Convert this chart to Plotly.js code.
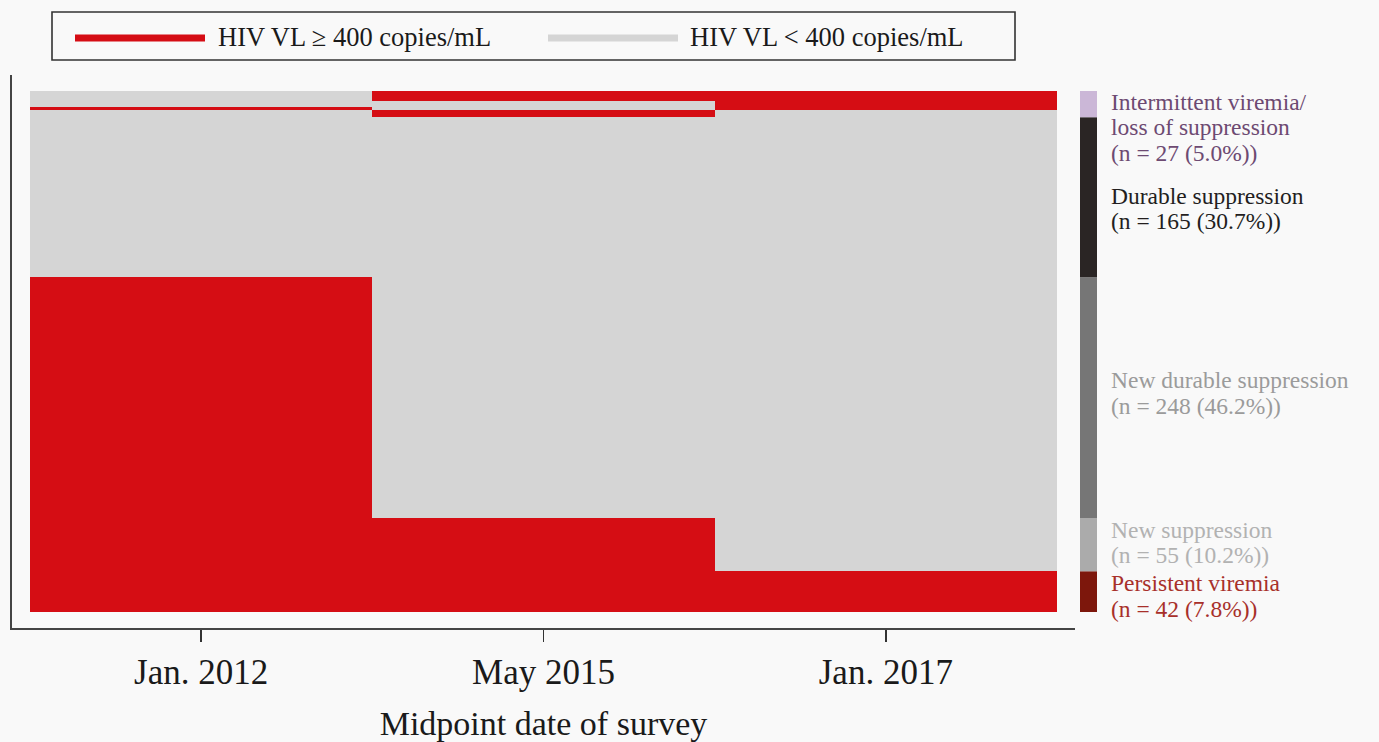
<!DOCTYPE html>
<html>
<head>
<meta charset="utf-8">
<script src="https://cdn.plot.ly/plotly-3.0.1.min.js"></script>
<style>
  html, body { margin: 0; padding: 0; background: #f9f9f9; }
  #chart { width: 1379px; height: 742px; }
</style>
</head>
<body>
<div id="chart"></div>
<script>
// Survey rounds shown as columns
const surveys = ['Jan. 2012', 'May 2015', 'Jan. 2017'];

// Trajectory groups, bottom to top (each entry is a list of text lines before the count)
const groupNames = [
  ['Persistent viremia'],
  ['New suppression'],
  ['New durable suppression'],
  ['Durable suppression'],
  ['Intermittent viremia/', 'loss of suppression']
];

// Runs of participants sharing the same viral-load pattern (1 = VL >= 400, 0 = VL < 400)
const runGroup  = [0, 1, 2, 3, 4, 4, 4, 4];
const runCounts = [42, 55, 248, 165, 7, 3, 7, 10];
const run2012   = [1, 1, 1, 0, 0, 1, 0, 0];
const run2015   = [1, 1, 0, 0, 1, 0, 0, 1];
const run2017   = [1, 0, 0, 0, 0, 1, 1, 1];

// Legend entries
const vlLabels = ['HIV VL \u2265 400 copies/mL', 'HIV VL < 400 copies/mL'];

// Colours
const RED = '#d50d14';
const GREY = '#d5d5d5';
const groupBarColors = ['#7d170c', '#ababab', '#767676', '#2a2524', '#cbb7d7'];
const groupTextColors = ['#a8302a', '#b2b2b2', '#9b9b9b', '#231e1e', '#6d4a72'];
const labelShiftPx = [-4.5, 2, 4.5, -11.5, -23];
const LINE_GAP = 25.5;

const FONT = '"Liberation Serif", "DejaVu Serif", serif';

// Build one heatmap row per participant
const z = [];
runCounts.forEach((n, i) => {
  for (let k = 0; k < n; k++) z.push([run2012[i], run2015[i], run2017[i]]);
});
const total = z.length;

// Group sizes and cumulative extents
const groupCounts = groupNames.map((_, g) =>
  runCounts.reduce((s, n, i) => s + (runGroup[i] === g ? n : 0), 0));
const groupStart = [];
groupCounts.reduce((acc, n, g) => { groupStart[g] = acc; return acc + n; }, 0);

// Plot-area geometry (pixels) used for paper-space helpers
const G = { l: 12, r: 1075, t: 75, b: 628 };
const fx = x => (x - G.l) / (G.r - G.l);
const fy = y => (G.b - y) / (G.b - G.t);

const pxPerCol = (1057 - 30) / 3;
const padX = 18 / pxPerCol;
const pxPerRow = 521 / total;
const padY = 16 / pxPerRow;

const trace = {
  type: 'heatmap',
  z: z,
  x: [0, 1, 2],
  y: z.map((_, i) => i),
  zmin: 0, zmax: 1,
  colorscale: [[0, GREY], [0.5, GREY], [0.5, RED], [1, RED]],
  showscale: false,
  hoverinfo: 'skip'
};

const shapes = [];
const annotations = [];

// Group colour strip and labels on the right
groupCounts.forEach((n, g) => {
  const y0 = groupStart[g] - 0.5;
  const y1 = groupStart[g] + n - 0.5;
  shapes.push({
    type: 'rect', xref: 'paper', yref: 'y',
    x0: fx(1080), x1: fx(1097), y0: y0, y1: y1,
    fillcolor: groupBarColors[g], line: { width: 0 }, layer: 'above'
  });
  const pct = (100 * n / total).toFixed(1);
  const lines = groupNames[g].concat(['(n = ' + n + ' (' + pct + '%))']);
  lines.forEach((txt, i) => {
    const off = (i - (lines.length - 1) / 2) * LINE_GAP;
    annotations.push({
      xref: 'paper', yref: 'y',
      x: fx(1109), y: (y0 + y1) / 2, yshift: labelShiftPx[g] - off,
      xanchor: 'left', yanchor: 'middle', align: 'left',
      showarrow: false,
      text: txt,
      font: { family: FONT, size: 23.5, color: groupTextColors[g] }
    });
  });
});

// Legend box drawn across the top
shapes.push({
  type: 'rect', xref: 'paper', yref: 'paper',
  x0: fx(52), x1: fx(1015), y0: fy(60), y1: fy(12),
  fillcolor: 'rgba(0,0,0,0)', line: { color: '#333333', width: 1.6 }
});
const legendSwatchX = [[75, 205], [548, 678]];
const legendTextX = [216, 688];
const legendColors = [RED, GREY];
vlLabels.forEach((lab, i) => {
  shapes.push({
    type: 'line', xref: 'paper', yref: 'paper',
    x0: fx(legendSwatchX[i][0]), x1: fx(legendSwatchX[i][1]),
    y0: fy(38), y1: fy(38),
    line: { color: legendColors[i], width: 7 }
  });
  annotations.push({
    xref: 'paper', yref: 'paper', x: fx(legendTextX[i]), y: fy(37),
    xanchor: 'left', yanchor: 'middle', showarrow: false,
    text: lab, font: { family: FONT, size: 26.5, color: '#1a1a1a' }
  });
});

const layout = {
  width: 1379, height: 742,
  margin: { l: G.l, r: 1379 - G.r, t: G.t, b: 742 - G.b, pad: 0 },
  paper_bgcolor: '#f9f9f9',
  plot_bgcolor: '#f9f9f9',
  showlegend: false,
  xaxis: {
    range: [-0.5 - padX, 2.5 + padX],
    tickmode: 'array', tickvals: [0, 1, 2], ticktext: surveys,
    ticks: 'outside', ticklen: 12, tickwidth: 1.5, tickcolor: '#333333',
    ticklabelstandoff: 0,
    showline: true, linecolor: '#444444', linewidth: 1.6,
    showgrid: false, zeroline: false, fixedrange: true,
    tickfont: { family: FONT, size: 35, color: '#1a1a1a' },
    title: { text: 'Midpoint date of survey', standoff: 22,
             font: { family: FONT, size: 34, color: '#1a1a1a' } }
  },
  yaxis: {
    range: [-0.5 - padY, total - 0.5 + padY],
    showticklabels: false, ticks: '',
    showline: true, linecolor: '#444444', linewidth: 1.6,
    showgrid: false, zeroline: false, fixedrange: true
  },
  shapes: shapes,
  annotations: annotations
};

Plotly.newPlot('chart', [trace], layout, { displayModeBar: false, staticPlot: true });
</script>
</body>
</html>
